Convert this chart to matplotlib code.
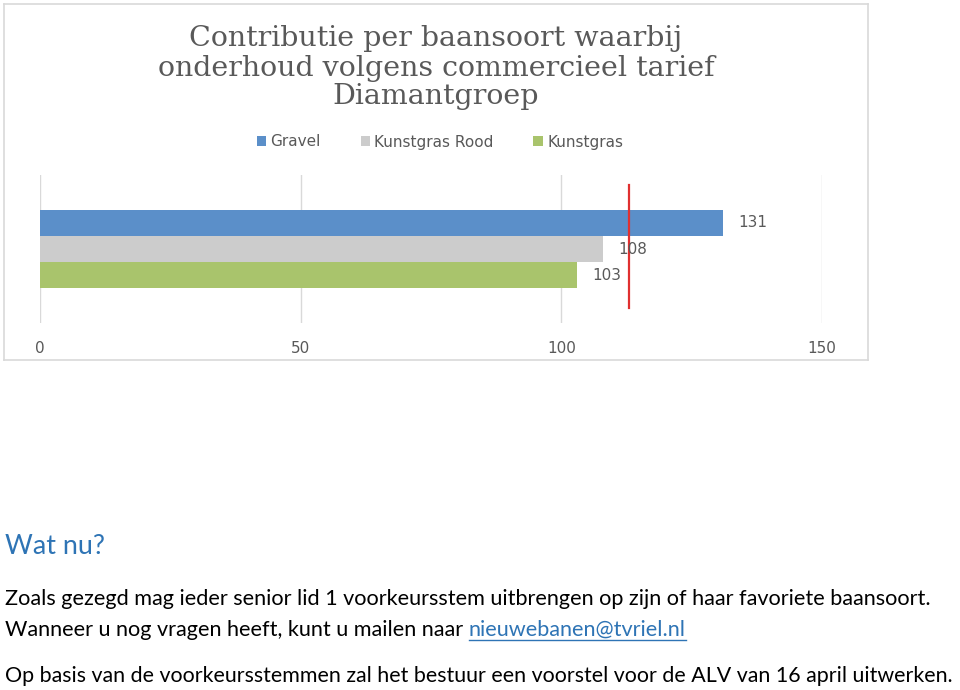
import matplotlib
matplotlib.use("Agg")
import matplotlib.pyplot as plt
from matplotlib.lines import Line2D
from matplotlib import font_manager

# chart data
series = ["Gravel", "Kunstgras Rood", "Kunstgras"]
values = [131, 108, 103]
colors = ["#5b8fc9", "#cccccc", "#a9c46c"]
red_line = 113
xticks = [0, 50, 100, 150]

title_lines = ["Contributie per baansoort waarbij",
               "onderhoud volgens commercieel tarief",
               "Diamantgroep"]

# document text below the chart
heading = "Wat nu?"
line1 = "Zoals gezegd mag ieder senior lid 1 voorkeursstem uitbrengen op zijn of haar favoriete baansoort."
line2 = "Wanneer u nog vragen heeft, kunt u mailen naar "
link = "nieuwebanen@tvriel.nl"
line3 = "Op basis van de voorkeursstemmen zal het bestuur een voorstel voor de ALV van 16 april uitwerken."

names = {f.name for f in font_manager.fontManager.ttflist}
body_font = "Liberation Sans Narrow" if "Liberation Sans Narrow" in names else "Lato"

W, H = 960, 690
fig = plt.figure(figsize=(W / 100, H / 100), dpi=100)
fig.patch.set_facecolor("white")


def fx(px):
    return px / W


def fy(py):
    return 1 - py / H


# chart frame (background axes so it stays behind the plot)
bg = fig.add_axes([fx(4), fy(360), fx(864), 356 / H], zorder=-1)
bg.set_xticks([])
bg.set_yticks([])
for s in bg.spines.values():
    s.set_color("#d9d9d9")
    s.set_linewidth(1.2)

for txt, y in zip(title_lines, [39, 68, 97]):
    fig.text(fx(436), fy(y), txt, ha="center", va="center", fontsize=20.5,
             family="DejaVu Serif", color="#595959")

# plot area
ax = fig.add_axes([fx(40), fy(323), fx(782), 148 / H])
ax.set_facecolor("none")
bh = 0.176
offsets = [-bh, 0, bh]
for name, v, c, off in zip(series, values, colors, offsets):
    ax.barh(off, v, height=bh, color=c, label=name, zorder=2)
    ax.text(v + 3, off, str(v), va="center", ha="left", fontsize=11, color="#595959", zorder=4)

ax.axvline(red_line, ymin=0.10, ymax=0.93, color="#e03030", lw=1.6, zorder=3)

ax.set_xlim(0, 150)
ax.set_ylim(0.5, -0.5)
ax.set_xticks(xticks)
ax.set_yticks([])
ax.grid(axis="x", color="#d9d9d9", lw=1, zorder=0)
for s in ax.spines.values():
    s.set_visible(False)
ax.tick_params(axis="x", length=0, pad=13, labelsize=11, labelcolor="#595959")

ax.legend(loc="center", bbox_to_anchor=(fx(440), fy(142)), bbox_transform=fig.transFigure,
          ncol=3, frameon=False, fontsize=11, handlelength=0.6, handleheight=0.6,
          handletextpad=0.3, columnspacing=2.6, labelcolor="#595959")

# document text
fig.canvas.draw()
r = fig.canvas.get_renderer()


def fit_text(x, y, s, width, color="black", size=14):
    t = fig.text(fx(x), fy(y), s, family=body_font, fontsize=size, color=color, va="baseline")
    w = t.get_window_extent(r).width
    t.set_fontsize(size * width / w)
    return t


fit_text(5, 554, heading, 100, color="#2e74b5", size=20)
t1 = fit_text(5, 605, line1, 930)
size = t1.get_fontsize()
t2 = fig.text(fx(5), fy(636), line2, family=body_font, fontsize=size, color="black", va="baseline")
fit_text(5, 682, line3, 950)

fig.canvas.draw()
bb = t2.get_window_extent(r)
tl = fig.text(bb.x1 / W, fy(636), link, family=body_font, fontsize=size,
              color="#2e74b5", va="baseline")
fig.canvas.draw()
lb = tl.get_window_extent(r)
fig.lines.append(Line2D([lb.x0 / W, lb.x1 / W], [fy(640), fy(640)], transform=fig.transFigure,
                        color="#2e74b5", lw=1))

fig.savefig("out.png", dpi=100)
